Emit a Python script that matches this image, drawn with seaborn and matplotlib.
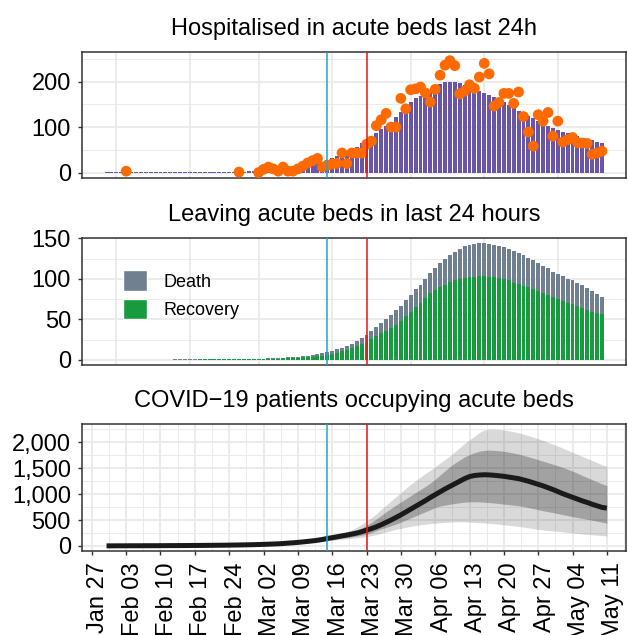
import numpy as np
import pandas as pd
import matplotlib
matplotlib.use("Agg")
import matplotlib.pyplot as plt
import matplotlib.dates as mdates
import matplotlib.transforms as mtransforms
from matplotlib.patches import Patch
from matplotlib.ticker import FuncFormatter, MultipleLocator, FixedLocator
import seaborn as sns

nan = np.nan

# === DATA ===
# daily series, 30 Jan to 10 May 2020
hospitalised = [0.5, 0.5, 0.5, 0.5, 0.5, 0.5, 0.5, 0.5, 0.5, 0.5,
                0.5, 0.5, 0.6, 0.6, 0.7, 0.7, 0.8, 0.8, 0.9, 1.0,
                1.0, 1.1, 1.2, 1.3, 1.4, 1.6, 1.8, 2.0, 2.2, 2.4,
                2.7, 3.0, 3.5, 4.0, 5.0, 6.0, 7.0, 8.0, 9.5, 11,
                13, 15, 17, 20, 24, 28, 32, 36, 40, 44,
                50, 57, 64, 72, 80, 87, 95, 103, 112, 122,
                132, 142, 155, 163, 168, 174, 180, 187, 194, 198,
                199, 198, 196, 193, 189, 184, 180, 175, 170, 165,
                160, 155, 149, 142, 136, 130, 124, 119, 113, 108,
                103, 98, 94, 90, 87, 84, 80, 77, 74, 71,
                68, 66]

observed = [nan, nan, nan, nan, 3, nan, nan, nan, nan, nan,
            nan, nan, nan, nan, nan, nan, nan, nan, nan, nan,
            nan, nan, nan, nan, nan, nan, nan, 1, nan, nan,
            nan, 0, 7, 12, 8, 3, 12, 3, 3, 8,
            14, 21, 26, 31, 12, 16, 19, 20, 43, 20,
            43, 43, 43, 62, 69, 103, 116, 130, 100, 100,
            163, 140, 182, 184, 188, 175, 155, 183, 214, 236,
            246, 235, 173, 179, 193, 185, 210, 240, 217, 146,
            154, 174, 174, 152, 177, 123, 89, 58, 127, 113,
            132, 80, 113, 67, 72, 77, 66, 65, 64, 40,
            43, 47]

recovery = [0.1, 0.1, 0.1, 0.1, 0.1, 0.1, 0.1, 0.1, 0.1, 0.1,
            0.1, 0.1, 0.1, 0.1, 0.2, 0.2, 0.2, 0.2, 0.2, 0.3,
            0.3, 0.3, 0.3, 0.3, 0.4, 0.4, 0.5, 0.5, 0.6, 0.7,
            0.7, 0.8, 1.0, 1.1, 1.3, 1.5, 1.7, 2.0, 2.2, 2.5,
            2.9, 3.3, 3.8, 4.4, 5.2, 6.0, 7.2, 8.5, 10.5, 12.5,
            14.5, 17, 19.5, 22.5, 26, 29, 32.5, 36, 39, 43,
            47.5, 53.5, 58.5, 65, 70.5, 76.5, 82, 86, 90, 93,
            96, 98, 100, 101.5, 102, 102.5, 103, 103, 102.5, 102,
            101, 99.5, 98, 95, 93.5, 91.5, 89.5, 88, 85, 83,
            80.5, 77, 74.5, 72, 70, 68.5, 66, 64, 62, 59.5,
            57.5, 56]

death = [0, 0, 0, 0, 0, 0, 0, 0, 0.1, 0.1,
         0.1, 0.1, 0.1, 0.1, 0.1, 0.1, 0.1, 0.1, 0.1, 0.1,
         0.1, 0.1, 0.2, 0.2, 0.2, 0.2, 0.2, 0.3, 0.3, 0.3,
         0.4, 0.5, 0.5, 0.6, 0.7, 0.8, 0.9, 1.0, 1.2, 1.4,
         1.5, 1.7, 2.0, 2.3, 2.8, 3.5, 3.8, 4.5, 4.5, 5.0,
         5.5, 6, 7.5, 8.5, 10, 11, 12.5, 14, 16, 18,
         19.5, 20.5, 21.5, 22, 22.5, 23.5, 25, 27, 29, 31,
         33, 35, 37, 38.5, 40, 40.5, 41, 41, 40.5, 40,
         40, 39.5, 39, 39, 38.5, 37.5, 36.5, 35, 34, 33,
         32.5, 32, 31.5, 31, 30, 29.5, 29, 28, 27, 25.5,
         23.5, 22]

# bed occupancy projection, 30 Jan to 11 May 2020
occ_median = [2, 2, 3, 3, 3, 4, 4, 4, 5, 5,
              5, 6, 6, 7, 7, 8, 8, 9, 10, 10,
              11, 12, 13, 14, 15, 16, 18, 19, 21, 23,
              25, 28, 31, 34, 38, 42, 47, 55, 61, 69,
              78, 88, 98, 110, 125, 145, 160, 178, 195, 212,
              230, 250, 275, 305, 335, 370, 410, 455, 500, 550,
              600, 655, 710, 765, 820, 875, 935, 990, 1045, 1100,
              1150, 1200, 1250, 1300, 1340, 1360, 1370, 1375, 1372, 1365,
              1355, 1345, 1330, 1315, 1300, 1275, 1250, 1220, 1190, 1160,
              1125, 1090, 1050, 1010, 975, 940, 905, 870, 840, 805,
              775, 745, 730]

occ_inner_hi = [2, 3, 3, 3, 4, 4, 4, 5, 5, 5,
                6, 6, 7, 7, 8, 8, 9, 9, 10, 11,
                12, 13, 14, 15, 16, 17, 19, 20, 22, 24,
                27, 30, 33, 37, 41, 46, 52, 58, 66, 74,
                84, 95, 106, 119, 135, 156, 173, 193, 214, 237,
                265, 300, 345, 400, 455, 520, 590, 660, 725, 790,
                850, 910, 970, 1030, 1090, 1150, 1215, 1290, 1370, 1450,
                1530, 1600, 1660, 1720, 1765, 1800, 1830, 1845, 1850, 1845,
                1838, 1828, 1812, 1795, 1775, 1750, 1722, 1695, 1665, 1638,
                1608, 1578, 1548, 1515, 1482, 1445, 1405, 1360, 1320, 1280,
                1240, 1200, 1165]

occ_inner_lo = [1, 2, 2, 2, 3, 3, 3, 4, 4, 4,
                5, 5, 5, 6, 6, 7, 7, 8, 8, 9,
                10, 11, 11, 12, 13, 14, 16, 17, 19, 21,
                23, 25, 28, 31, 35, 39, 43, 47, 52, 58,
                66, 73, 80, 88, 98, 110, 122, 135, 148, 160,
                175, 190, 208, 228, 255, 295, 330, 360, 390, 423,
                460, 500, 540, 580, 620, 660, 700, 744, 770, 790,
                805, 820, 835, 845, 852, 853, 850, 845, 838, 830,
                818, 808, 798, 787, 776, 760, 742, 722, 700, 680,
                662, 645, 625, 605, 585, 568, 550, 532, 515, 498,
                478, 460, 442]

occ_outer_hi = [3, 3, 4, 4, 4, 5, 5, 5, 6, 6,
                7, 7, 8, 8, 9, 10, 10, 11, 12, 13,
                14, 15, 16, 17, 19, 20, 22, 24, 26, 29,
                32, 35, 39, 43, 48, 53, 59, 66, 73, 80,
                88, 98, 110, 125, 145, 165, 185, 210, 240, 275,
                315, 360, 420, 480, 545, 620, 710, 790, 870, 950,
                1030, 1110, 1190, 1260, 1330, 1400, 1460, 1530, 1600, 1670,
                1740, 1820, 1900, 1980, 2050, 2120, 2190, 2240, 2255, 2255,
                2250, 2240, 2225, 2205, 2185, 2160, 2130, 2100, 2070, 2040,
                2000, 1965, 1930, 1890, 1850, 1810, 1770, 1730, 1690, 1650,
                1610, 1570, 1540]

occ_outer_lo = [1, 1, 2, 2, 2, 3, 3, 3, 4, 4,
                4, 5, 5, 5, 6, 6, 7, 7, 8, 8,
                9, 10, 10, 11, 12, 13, 14, 15, 17, 18,
                20, 22, 24, 27, 30, 33, 37, 41, 46, 52,
                58, 64, 72, 80, 90, 100, 110, 120, 130, 140,
                148, 158, 166, 180, 198, 220, 245, 270, 295, 320,
                340, 360, 378, 395, 410, 422, 432, 440, 448, 455,
                460, 465, 467, 465, 460, 455, 450, 445, 438, 430,
                420, 408, 398, 388, 378, 365, 350, 335, 320, 308,
                298, 290, 282, 272, 262, 252, 242, 232, 224, 216,
                208, 200, 195]

event_dates = ["2020-03-15", "2020-03-23"]
event_colors = ["#23A3C9", "#F0140F"]

days = pd.date_range("2020-01-30", periods=len(hospitalised), freq="D")
days_occ = pd.date_range("2020-01-30", periods=len(occ_median), freq="D")

# === STYLE ===
sns.set_theme(style="white")
plt.rcParams["font.family"] = ["Liberation Sans", "DejaVu Sans"]
plt.rcParams["text.color"] = "black"

purple = "#6A55A6"
orange = "#FF6A00"
slate = "#708090"
green = "#169B3F"

fig = plt.figure(figsize=(6.28, 6.35), dpi=100)
left, width = 0.1306, 0.8662
ax1 = fig.add_axes([left, 0.7197, width, 0.1984])
ax2 = fig.add_axes([left, 0.4252, width, 0.2000])
ax3 = fig.add_axes([left, 0.1323, width, 0.2000])

origin = mdates.date2num(pd.Timestamp("2020-01-27"))
xlim = (origin - 2.0, origin + 108.9)

# panel 1: hospitalised
ax1.bar(days, hospitalised, width=0.8, color=purple, linewidth=0, zorder=2)
sns.scatterplot(x=days, y=observed, s=60, color=orange, edgecolor="none",
                ax=ax1, zorder=3)
ax1.set_ylim(-12, 265)
ax1.yaxis.set_major_locator(MultipleLocator(100))
ax1.yaxis.set_minor_locator(MultipleLocator(50))
ax1.set_title("Hospitalised in acute beds last 24h", fontsize=17, pad=12, color="black")

# panel 2: leaving beds
ax2.bar(days, recovery, width=0.8, color=green, linewidth=0, zorder=2)
ax2.bar(days, death, bottom=recovery, width=0.8, color=slate, linewidth=0, zorder=2)
ax2.set_ylim(-6.5, 150.5)
ax2.yaxis.set_major_locator(MultipleLocator(50))
ax2.yaxis.set_minor_locator(MultipleLocator(25))
ax2.set_title("Leaving acute beds in last 24 hours", fontsize=17, pad=12, color="black")
handles = [Patch(facecolor=slate, label="Death"), Patch(facecolor=green, label="Recovery")]
ax2.legend(handles=handles, loc="upper left", bbox_to_anchor=(0.075, 0.745),
           frameon=False, fontsize=13, handlelength=1.35, handleheight=1.35,
           handletextpad=0.9, labelspacing=0.45, borderpad=0, borderaxespad=0)

# panel 3: occupancy
ax3.fill_between(days_occ, occ_outer_lo, occ_outer_hi, color="black", alpha=0.15,
                 linewidth=0, zorder=2)
ax3.fill_between(days_occ, occ_inner_lo, occ_inner_hi, color="black", alpha=0.25,
                 linewidth=0, zorder=2)
sns.lineplot(x=days_occ, y=occ_median, color="#1A1A1A", linewidth=3.6, ax=ax3, zorder=3)
ax3.lines[-1].set_solid_capstyle("butt")
ax3.set_ylim(-97, 2355)
ax3.yaxis.set_major_locator(MultipleLocator(500))
ax3.yaxis.set_minor_locator(MultipleLocator(250))
ax3.yaxis.set_major_formatter(FuncFormatter(lambda v, p: f"{v:,.0f}"))
ax3.set_title("COVID\u221219 patients occupying acute beds", fontsize=17, pad=12,
              color="black")

# shared formatting
top_breaks = mdates.date2num(pd.to_datetime(["2020-02-01", "2020-02-16", "2020-03-01",
                                             "2020-03-16", "2020-04-01", "2020-04-16",
                                             "2020-05-01"]))
for ax in (ax1, ax2, ax3):
    ax.set_xlim(*xlim)
    for d, c in zip(event_dates, event_colors):
        ax.axvline(pd.Timestamp(d), color=c, linewidth=1.1, zorder=4)
    ax.set_xlabel("")
    ax.set_ylabel("")
    ax.set_axisbelow(True)
    ax.grid(which="major", color="#EBEBEB", linewidth=1.4)
    ax.grid(which="minor", color="#EBEBEB", linewidth=0.7)
    for s in ax.spines.values():
        s.set_color("#333333")
        s.set_linewidth(1.1)
    ax.tick_params(axis="y", which="major", left=True, length=3, width=1,
                   color="#333333", labelsize=17, pad=5, labelcolor="black")
    ax.tick_params(which="minor", length=0)

for ax in (ax1, ax2):
    ax.xaxis.set_major_locator(FixedLocator(top_breaks))
    ax.xaxis.set_minor_locator(FixedLocator([]))
    ax.tick_params(axis="x", which="both", bottom=False, labelbottom=False)

ax3.xaxis.set_major_locator(mdates.WeekdayLocator(byweekday=mdates.MO))
ax3.xaxis.set_minor_locator(FixedLocator(
    mdates.date2num(pd.date_range("2020-01-23 12:00", "2020-05-16", freq="7D"))))
ax3.xaxis.set_major_formatter(mdates.DateFormatter("%b %d"))
ax3.tick_params(axis="x", which="major", bottom=True, length=3, width=1, color="#333333",
                labelsize=17, pad=5, labelcolor="black", labelrotation=90)

fig.canvas.draw()
shift = mtransforms.ScaledTranslation(-4.5 / 100, 0, fig.dpi_scale_trans)
for lab in ax3.get_xticklabels():
    lab.set_ha("right")
    lab.set_va("top")
    lab.set_rotation_mode("anchor")
    lab.set_transform(lab.get_transform() + shift)

fig.savefig("out.png", dpi=100)
